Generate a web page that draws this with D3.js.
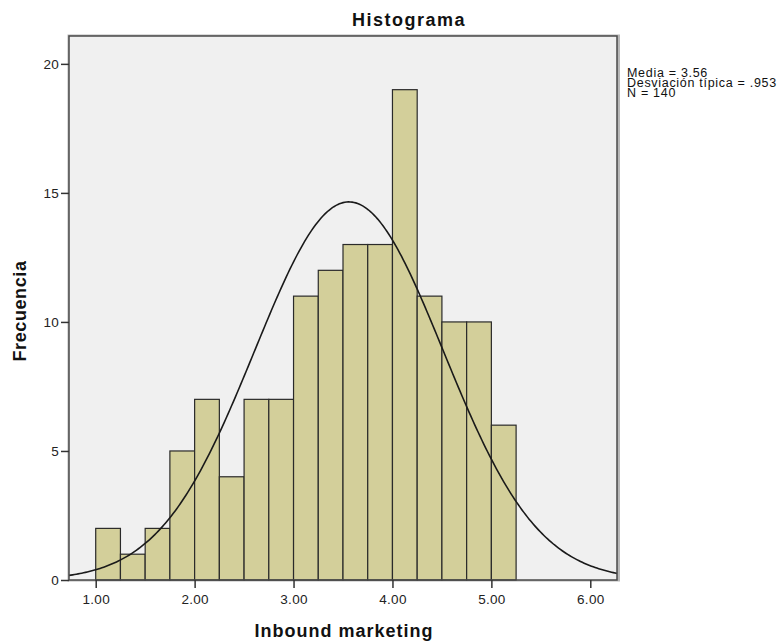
<!DOCTYPE html>
<html>
<head>
<meta charset="utf-8">
<script src="https://cdn.jsdelivr.net/npm/d3@7"></script>
<style>
  body { margin: 0; background: #fff; }
  svg { display: block; font-family: "Liberation Sans", Arial, sans-serif; }
</style>
</head>
<body>
<svg id="chart" width="782" height="644"></svg>
<script>
// Histogram bins (lower edge, width 0.25) and frequencies
const binStarts = [1.00, 1.25, 1.50, 1.75, 2.00, 2.25, 2.50, 2.75, 3.00, 3.25, 3.50, 3.75, 4.00, 4.25, 4.50, 4.75, 5.00];
const frequencies = [2, 1, 2, 5, 7, 4, 7, 7, 11, 12, 13, 13, 19, 11, 10, 10, 6];
const binWidth = 0.25;

const xTicks = [1, 2, 3, 4, 5, 6];
const yTicks = [0, 5, 10, 15, 20];

const mean = 3.56;
const sd = 0.953;
const n = 140;
const statLines = ["Media = 3.56", "Desviación típica = .953", "N = 140"];

const svg = d3.select("#chart");
const plot = { left: 69, top: 36, right: 617, bottom: 580 };

const x = d3.scaleLinear().domain([0.73, 6.27]).range([plot.left, plot.right]);
const y = d3.scaleLinear().domain([0, 21.08]).range([plot.bottom, plot.top]);

// Frame shadow and background
svg.append("rect")
  .attr("x", plot.left).attr("y", plot.top)
  .attr("width", plot.right - plot.left + 1.5).attr("height", plot.bottom - plot.top)
  .attr("fill", "none").attr("stroke", "#b8b8b8").attr("stroke-width", 3);
svg.append("rect")
  .attr("x", plot.left).attr("y", plot.top)
  .attr("width", plot.right - plot.left).attr("height", plot.bottom - plot.top)
  .attr("fill", "#f0f0f0");

// Bars
svg.append("g").selectAll("rect")
  .data(binStarts.map((s, i) => ({ s, f: frequencies[i] })))
  .join("rect")
  .attr("x", d => x(d.s))
  .attr("y", d => y(d.f))
  .attr("width", d => x(d.s + binWidth) - x(d.s))
  .attr("height", d => y(0) - y(d.f))
  .attr("fill", "#d3cf9a")
  .attr("stroke", "#2a2a2a")
  .attr("stroke-width", 1.2);

// Normal curve scaled to counts
const scaleFactor = n * binWidth / (sd * Math.sqrt(2 * Math.PI));
const curvePts = d3.range(0, 301).map(i => {
  const xv = 0.73 + (6.27 - 0.73) * i / 300;
  return [xv, scaleFactor * Math.exp(-0.5 * ((xv - mean) / sd) ** 2)];
});
svg.append("path")
  .datum(curvePts)
  .attr("fill", "none")
  .attr("stroke", "#1a1a1a")
  .attr("stroke-width", 1.6)
  .attr("d", d3.line().x(d => x(d[0])).y(d => y(d[1])));

// Frame border
svg.append("rect")
  .attr("x", plot.left).attr("y", plot.top)
  .attr("width", plot.right - plot.left).attr("height", plot.bottom - plot.top)
  .attr("fill", "none").attr("stroke", "#4a4a4a").attr("stroke-width", 1.5);

// Axes
const xAxis = svg.append("g")
  .attr("transform", `translate(0,${plot.bottom})`)
  .call(d3.axisBottom(x).tickValues(xTicks).tickFormat(d3.format(".2f")).tickSize(8).tickSizeOuter(0));
const yAxis = svg.append("g")
  .attr("transform", `translate(${plot.left},0)`)
  .call(d3.axisLeft(y).tickValues(yTicks).tickSize(8).tickSizeOuter(0));
[xAxis, yAxis].forEach(g => {
  g.select(".domain").remove();
  g.selectAll(".tick line").attr("stroke", "#333").attr("stroke-width", 1.5);
  g.selectAll(".tick text").attr("fill", "#222").style("font-size", "13.5px")
    .style("font-family", "'Liberation Sans', Arial, sans-serif")
    .style("letter-spacing", "0.3px");
});
xAxis.selectAll(".tick text").attr("dy", "0.95em").attr("y", 11);
yAxis.selectAll(".tick text").attr("x", -10);

// Titles
svg.append("text")
  .attr("x", 409).attr("y", 26)
  .attr("text-anchor", "middle")
  .style("font-size", "18px").style("font-weight", "bold").style("letter-spacing", "1.5px")
  .attr("fill", "#111")
  .text("Histograma");
svg.append("text")
  .attr("x", 344).attr("y", 637)
  .attr("text-anchor", "middle")
  .style("font-size", "18px").style("font-weight", "bold").style("letter-spacing", "1px")
  .attr("fill", "#111")
  .text("Inbound marketing");
svg.append("text")
  .attr("transform", `translate(26,311) rotate(-90)`)
  .attr("text-anchor", "middle")
  .style("font-size", "18px").style("font-weight", "bold").style("letter-spacing", "0.6px")
  .attr("fill", "#111")
  .text("Frecuencia");

// Summary statistics
svg.append("g").selectAll("text")
  .data(statLines)
  .join("text")
  .attr("x", 627)
  .attr("y", (d, i) => 77 + i * 10)
  .style("font-size", "12.5px").style("letter-spacing", "0.7px")
  .attr("fill", "#111")
  .text(d => d);
</script>
</body>
</html>
